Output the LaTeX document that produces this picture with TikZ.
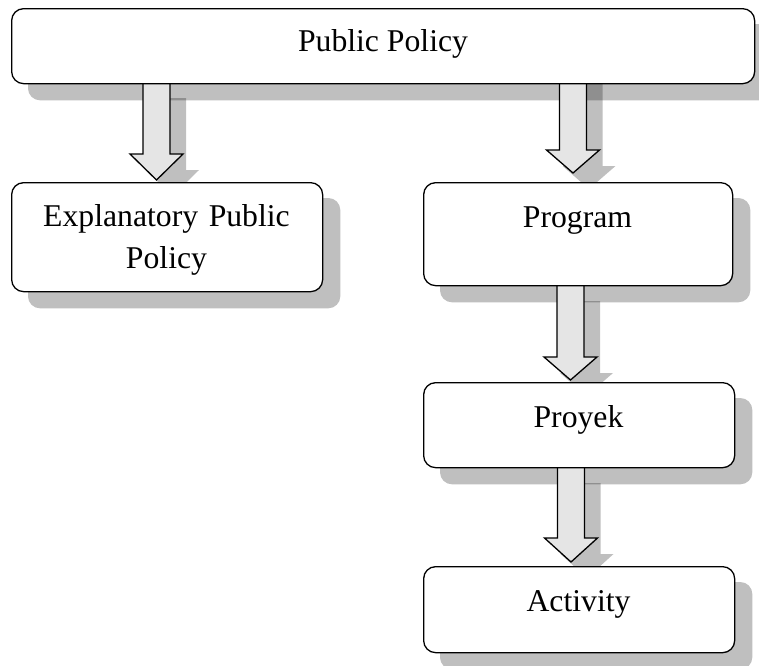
\documentclass[tikz,border=0pt]{standalone}
\usepackage{fontspec}
\setmainfont{Liberation Serif}
\pgfdeclarelayer{shadow}
\pgfdeclarelayer{arrows}
\pgfsetlayers{shadow,arrows,main}
\newcommand\arrowpath[5]{([shift={({#4-13.5},{#5})}]#1) -- ([shift={({#4-13.5},{#5+#2})}]#1) -- ([shift={({#4-26.5},{#5+#2})}]#1) -- ([shift={({#4},{#5+#2+#3})}]#1) -- ([shift={({#4+26.5},{#5+#2})}]#1) -- ([shift={({#4+13.5},{#5+#2})}]#1) -- ([shift={({#4+13.5},{#5})}]#1) -- cycle}
\tikzset{
  box/.style={draw, line width=1.3pt, rounded corners=12pt, fill=white, inner sep=0pt, anchor=north west},
  boxshade/.style={fill=black, opacity=0.25, rounded corners=12pt},
  lbl/.style={font=\fontsize{31.7}{42}\selectfont, anchor=base, inner sep=0pt},
  blockarrow/.style={draw, line width=1.3pt, fill=black!10, line join=miter},
  arrowshade/.style={fill=black, opacity=0.25},
}
\begin{document}
\begin{tikzpicture}[x=1pt,y=-1pt]
\useasboundingbox (0,0) rectangle (759,665);
% boxes
\node[box, minimum width=743pt, minimum height=75pt] (pp) at (11,8) {};
\node[box, minimum width=311pt, minimum height=109pt] (ex) at (11,182) {};
\node[box, minimum width=309pt, minimum height=103pt] (pg) at (423,182) {};
\node[box, minimum width=311pt, minimum height=85pt] (pr) at (423,382) {};
\node[box, minimum width=311pt, minimum height=86pt] (ac) at (423,566) {};
% texts
\node[lbl] (tpp) at (383,51) {Public Policy};
\node[lbl, text width=320pt, align=center] (tex) at (166.5,226) {Explanatory Public\\Policy};
\node[lbl] (tpg) at (577.5,227) {Program};
\node[lbl] (tpr) at (578.5,427) {Proyek};
\node[lbl] (tac) at (578.5,611) {Activity};
% arrow start points
\coordinate (s1) at (156.5,82);
\coordinate (s2) at (573,67);
\coordinate (s3) at (570.5,285);
\coordinate (s4) at (571,467);
% shadows
\begin{pgfonlayer}{shadow}
  \foreach \n in {pp,ex,pg,pr,ac}{
    \fill[boxshade] ([shift={(17,16)}]\n.north west) rectangle ([shift={(17,16)}]\n.south east);
  }
  \fill[arrowshade] \arrowpath{s1}{72}{26}{16}{16};
  \fill[arrowshade] \arrowpath{s2}{83}{23}{16}{16};
  \fill[arrowshade] \arrowpath{s3}{72}{23}{16}{16};
  \fill[arrowshade] \arrowpath{s4}{71}{24}{16}{16};
\end{pgfonlayer}
% block arrows
\begin{pgfonlayer}{arrows}
  \path[blockarrow] \arrowpath{s1}{72}{26}{0}{0};
  \path[blockarrow] \arrowpath{s2}{83}{23}{0}{0};
  \path[blockarrow] \arrowpath{s3}{72}{23}{0}{0};
  \path[blockarrow] \arrowpath{s4}{71}{24}{0}{0};
\end{pgfonlayer}
\end{tikzpicture}
\end{document}
